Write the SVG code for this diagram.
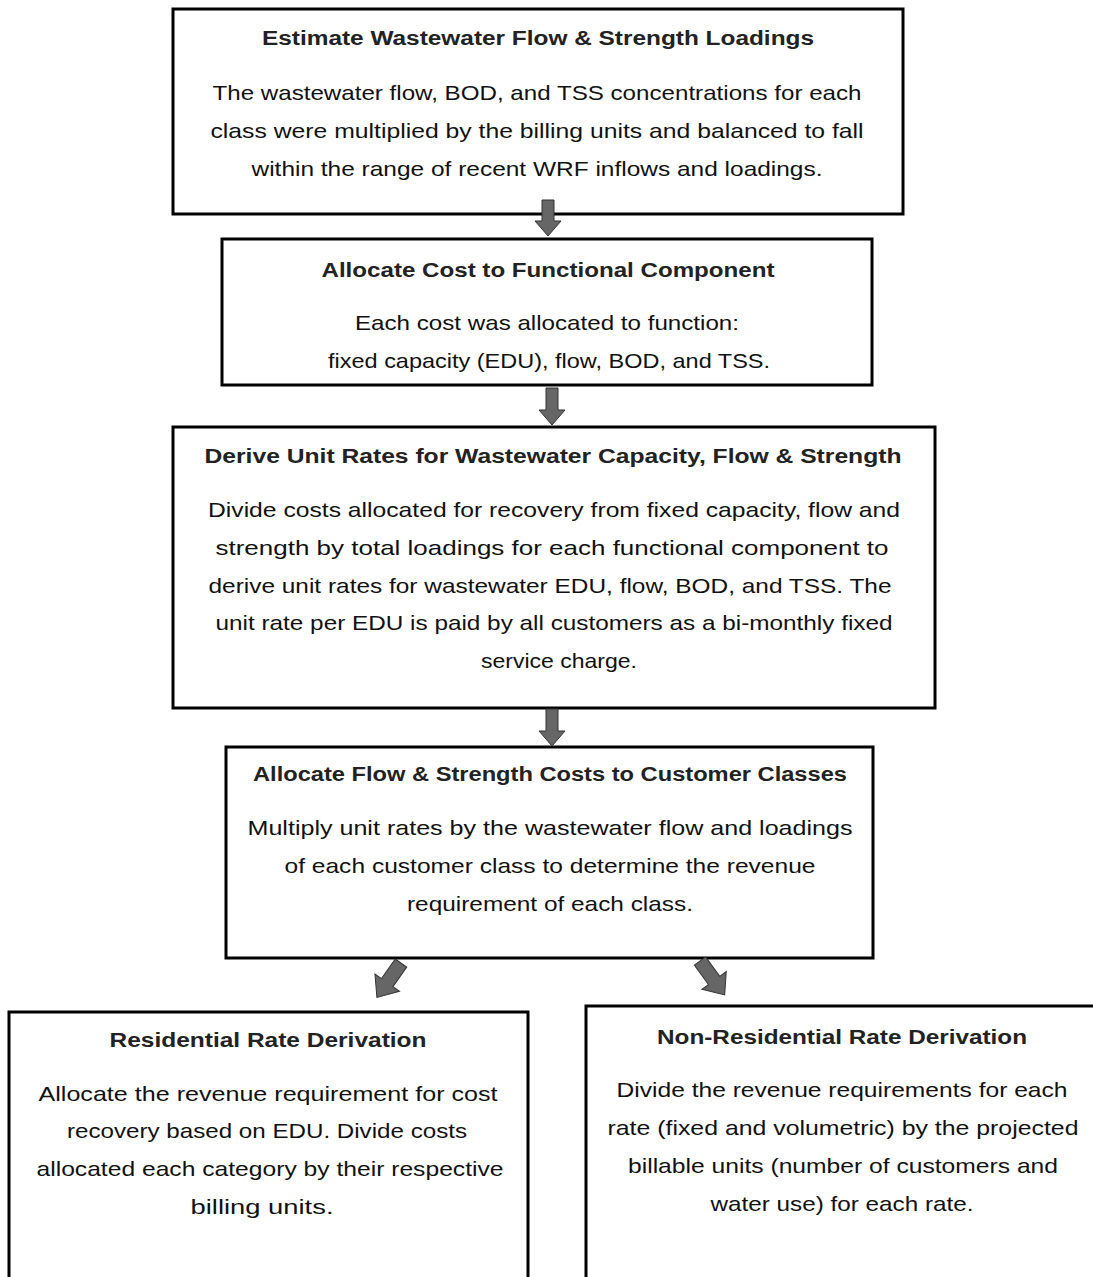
<svg xmlns="http://www.w3.org/2000/svg" width="1093" height="1277" viewBox="0 0 1093 1277">
<style>
.box{fill:#fff;stroke:#000;stroke-width:3}
.t{font-family:"Liberation Sans","Open Sans",Arial,sans-serif;font-weight:bold;font-size:20px;fill:#222;text-anchor:middle}
.b{font-family:"Liberation Sans","Open Sans",Arial,sans-serif;font-size:21px;fill:#111;text-anchor:middle}
.arr{fill:#666;stroke:#333;stroke-width:1}
</style>
<rect width="1093" height="1277" fill="#fff"/>
<g id="n1">
<rect class="box" x="173" y="9" width="730" height="205"/>
<text class="t" x="538" y="45" textLength="552" lengthAdjust="spacingAndGlyphs">Estimate Wastewater Flow &amp; Strength Loadings</text>
<text class="b" x="537" y="100" textLength="649" lengthAdjust="spacingAndGlyphs">The wastewater flow, BOD, and TSS concentrations for each</text>
<text class="b" x="537" y="138" textLength="653" lengthAdjust="spacingAndGlyphs">class were multiplied by the billing units and balanced to fall</text>
<text class="b" x="537" y="176" textLength="571" lengthAdjust="spacingAndGlyphs">within the range of recent WRF inflows and loadings.</text>
</g>
<g id="n2">
<rect class="box" x="222" y="239" width="650" height="146"/>
<text class="t" x="548" y="277" textLength="453" lengthAdjust="spacingAndGlyphs">Allocate Cost to Functional Component</text>
<text class="b" x="547" y="330" textLength="384" lengthAdjust="spacingAndGlyphs">Each cost was allocated to function:</text>
<text class="b" x="549" y="368" textLength="442" lengthAdjust="spacingAndGlyphs">fixed capacity (EDU), flow, BOD, and TSS.</text>
</g>
<g id="n3">
<rect class="box" x="173" y="427" width="762" height="281"/>
<text class="t" x="553" y="463" textLength="697" lengthAdjust="spacingAndGlyphs">Derive Unit Rates for Wastewater Capacity, Flow &amp; Strength</text>
<text class="b" x="554" y="517" textLength="692" lengthAdjust="spacingAndGlyphs">Divide costs allocated for recovery from fixed capacity, flow and</text>
<text class="b" x="552" y="555" textLength="673" lengthAdjust="spacingAndGlyphs">strength by total loadings for each functional component to</text>
<text class="b" x="550" y="593" textLength="683" lengthAdjust="spacingAndGlyphs">derive unit rates for wastewater EDU, flow, BOD, and TSS. The</text>
<text class="b" x="554" y="630" textLength="677" lengthAdjust="spacingAndGlyphs">unit rate per EDU is paid by all customers as a bi-monthly fixed</text>
<text class="b" x="559" y="668" textLength="156" lengthAdjust="spacingAndGlyphs">service charge.</text>
</g>
<g id="n4">
<rect class="box" x="226" y="747" width="647" height="211"/>
<text class="t" x="550" y="781" textLength="594" lengthAdjust="spacingAndGlyphs">Allocate Flow &amp; Strength Costs to Customer Classes</text>
<text class="b" x="550" y="835" textLength="605" lengthAdjust="spacingAndGlyphs">Multiply unit rates by the wastewater flow and loadings</text>
<text class="b" x="550" y="873" textLength="531" lengthAdjust="spacingAndGlyphs">of each customer class to determine the revenue</text>
<text class="b" x="550" y="911" textLength="286" lengthAdjust="spacingAndGlyphs">requirement of each class.</text>
</g>
<g id="n5">
<path class="box" d="M9,1290 L9,1012 L528,1012 L528,1290"/>
<text class="t" x="268" y="1047" textLength="317" lengthAdjust="spacingAndGlyphs">Residential Rate Derivation</text>
<text class="b" x="268" y="1101" textLength="459" lengthAdjust="spacingAndGlyphs">Allocate the revenue requirement for cost</text>
<text class="b" x="267" y="1138" textLength="400" lengthAdjust="spacingAndGlyphs">recovery based on EDU. Divide costs</text>
<text class="b" x="270" y="1176" textLength="467" lengthAdjust="spacingAndGlyphs">allocated each category by their respective</text>
<text class="b" x="262" y="1214" textLength="143" lengthAdjust="spacingAndGlyphs">billing units.</text>
</g>
<g id="n6">
<path class="box" d="M586,1290 L586,1006 L1100,1006"/>
<text class="t" x="842" y="1044" textLength="370" lengthAdjust="spacingAndGlyphs">Non-Residential Rate Derivation</text>
<text class="b" x="842" y="1097" textLength="451" lengthAdjust="spacingAndGlyphs">Divide the revenue requirements for each</text>
<text class="b" x="843" y="1135" textLength="471" lengthAdjust="spacingAndGlyphs">rate (fixed and volumetric) by the projected</text>
<text class="b" x="843" y="1173" textLength="430" lengthAdjust="spacingAndGlyphs">billable units (number of customers and</text>
<text class="b" x="842" y="1211" textLength="263" lengthAdjust="spacingAndGlyphs">water use) for each rate.</text>
</g>
<g id="connectors">
<path class="arr" d="M542,200 L554,200 L554,221 L561,221 L548,236 L535,221 L542,221 Z"/>
<path class="arr" d="M546,388 L558,388 L558,410 L565,410 L552,425 L539,410 L546,410 Z"/>
<path class="arr" d="M546,709 L558,709 L558,731 L565,731 L552,746 L539,731 L546,731 Z"/>
<path class="arr" d="M-7,0 L7,0 L7,24 L15,24 L0,42 L-15,24 L-7,24 Z" transform="translate(401,963) rotate(35)"/>
<path class="arr" d="M-7,0 L7,0 L7,24 L15,24 L0,42 L-15,24 L-7,24 Z" transform="translate(700,961) rotate(-36)"/>
</g>
</svg>
